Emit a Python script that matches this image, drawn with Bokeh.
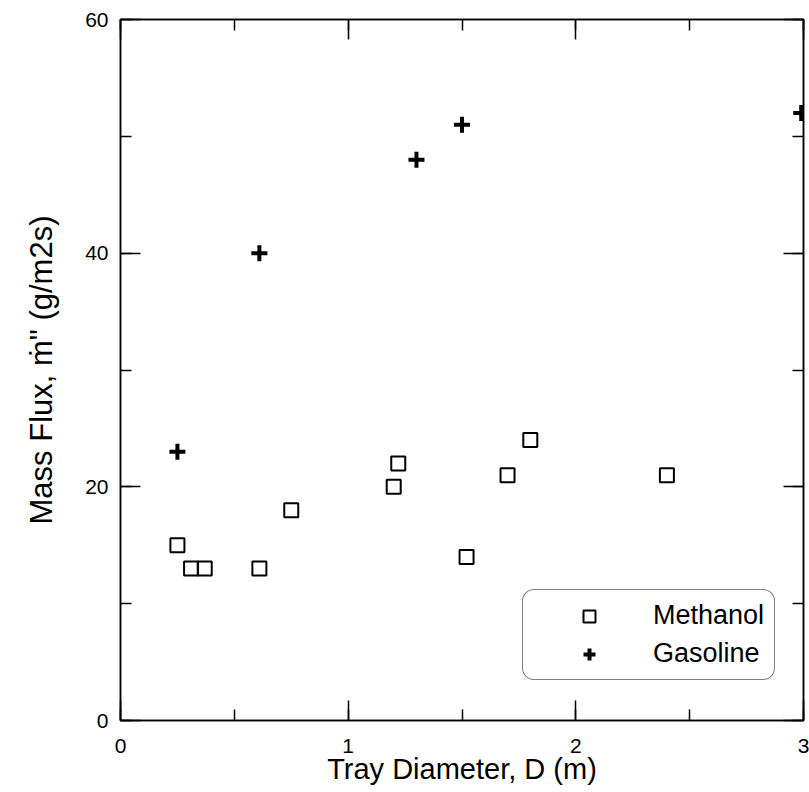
from bokeh.plotting import figure
from bokeh.models import (LinearAxis, SingleIntervalTicker, Range1d, Legend, LegendItem,
                          ColumnDataSource, CustomLabelingPolicy)
from bokeh.embed import file_html
from bokeh.resources import INLINE

# ---- data ----
methanol_d = [0.25, 0.31, 0.37, 0.61, 0.75, 1.20, 1.22, 1.52, 1.70, 1.80, 2.40]
methanol_m = [15, 13, 13, 13, 18, 20, 22, 14, 21, 24, 21]
gasoline_d = [0.25, 0.61, 1.30, 1.50, 2.99]
gasoline_m = [23, 40, 48, 51, 52]

x_label = "Tray Diameter, D (m)"
y_label = "Mass Flux, \u1e41\" (g/m2s)"
series_names = ["Methanol", "Gasoline"]

FONT = "Liberation Sans"

p = figure(width=809, height=792, output_backend="svg", toolbar_location=None,
           x_range=Range1d(0, 3), y_range=Range1d(0, 60),
           x_axis_type=None, y_axis_type=None)
p.min_border_left = 120
p.min_border_right = 6
p.min_border_top = 19
p.min_border_bottom = 72
p.background_fill_color = "white"
p.border_fill_color = "white"
p.outline_line_color = "black"
p.outline_line_width = 1.5
p.xgrid.visible = False
p.ygrid.visible = False

no_labels_code = """
try {
  const ids = Array.from(indices)
  for (const i of ids) indices.unset(i)
} catch (e) {}
return indices
"""


def style_axis(ax, show_labels):
    ax.axis_line_color = "black"
    ax.axis_line_width = 1.5
    ax.major_tick_line_color = "black"
    ax.minor_tick_line_color = "black"
    ax.major_tick_line_width = 1.5
    ax.minor_tick_line_width = 1.5
    ax.major_tick_in = 20
    ax.major_tick_out = 0
    ax.minor_tick_in = 11
    ax.minor_tick_out = 0
    ax.major_label_text_font = FONT
    ax.major_label_text_color = "black"
    if show_labels:
        ax.major_label_text_font_size = "21px"
        ax.axis_label_text_font = FONT
        ax.axis_label_text_font_size = "31px"
        ax.axis_label_text_font_style = "normal"
        ax.axis_label_text_color = "black"
    else:
        # no tick labels on the mirrored top/right axes
        ax.major_label_policy = CustomLabelingPolicy(code=no_labels_code)
        ax.major_label_text_font_size = "0px"
        ax.major_label_standoff = 0


xb = LinearAxis(ticker=SingleIntervalTicker(interval=1, num_minor_ticks=2), axis_label=x_label)
style_axis(xb, True)
xb.axis_label_text_font_size = "29px"
xb.major_label_standoff = 18
xb.axis_label_standoff = -3
p.add_layout(xb, "below")

yl = LinearAxis(ticker=SingleIntervalTicker(interval=20, num_minor_ticks=2), axis_label=y_label)
style_axis(yl, True)
yl.major_label_standoff = 12
yl.axis_label_standoff = 23
p.add_layout(yl, "left")

xt = LinearAxis(ticker=SingleIntervalTicker(interval=1, num_minor_ticks=2))
style_axis(xt, False)
p.add_layout(xt, "above")

yr = LinearAxis(ticker=SingleIntervalTicker(interval=20, num_minor_ticks=2))
style_axis(yr, False)
p.add_layout(yr, "right")

src_m = ColumnDataSource(dict(x=methanol_d, y=methanol_m))
src_g = ColumnDataSource(dict(x=gasoline_d, y=gasoline_m))

r_m = p.scatter("x", "y", source=src_m, marker="square", size=14,
                fill_color="white", fill_alpha=0, line_color="black", line_width=2)
r_g = p.scatter("x", "y", source=src_g, marker="cross", size=16,
                line_color="black", line_width=4)

legend = Legend(items=[LegendItem(label=series_names[0], renderers=[r_m]),
                       LegendItem(label=series_names[1], renderers=[r_g])],
                location=(402, 40))
legend.label_text_font = FONT
legend.label_text_font_size = "27px"
legend.label_text_color = "black"
legend.border_line_color = "black"
legend.border_line_width = 1.5
legend.background_fill_color = "white"
legend.background_fill_alpha = 1
legend.padding = 10
legend.spacing = 7
legend.glyph_width = 112
legend.glyph_height = 30
legend.label_height = 30
legend.label_standoff = 8
legend.margin = 0
if "border_radius" in Legend.properties():
    legend.border_radius = 12
p.add_layout(legend, "center")

open("out.html", "w").write(file_html(p, INLINE))
